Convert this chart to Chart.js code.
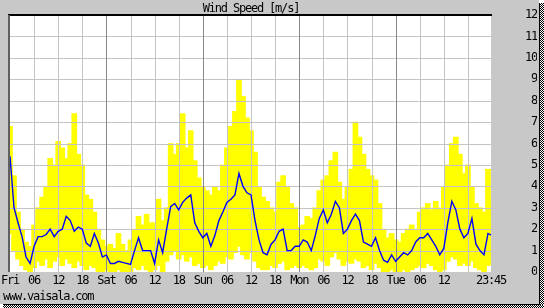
<!DOCTYPE html>
<html><head><meta charset="utf-8">
<script src="https://cdn.jsdelivr.net/npm/chart.js@4/dist/chart.umd.min.js"></script>
<style>
html,body{margin:0;padding:0;background:#fff;}
#wrap{position:relative;width:544px;height:308px;overflow:hidden;background:#fff;}
#panel{position:absolute;left:0;top:0;width:539px;height:304px;background:#c8c8c8;}
.blk{position:absolute;background:#000;}
.chk{position:absolute;background:repeating-conic-gradient(#000 0 25%,#fff 0 50%) 0 0/2px 2px;}
#c{position:absolute;left:0;top:0;}
.txt{position:absolute;font-family:"DejaVu Sans Mono",monospace;font-size:12px;line-height:14px;letter-spacing:-1.2px;color:#000;white-space:pre;}
</style></head>
<body><div id="wrap">
<div id="panel"></div>
<div class="blk" style="left:539px;top:3px;width:1px;height:302px"></div>
<div class="blk" style="left:3px;top:304px;width:537px;height:1px"></div>
<div class="chk" style="left:540px;top:3px;width:4px;height:305px"></div>
<div class="chk" style="left:3px;top:305px;width:541px;height:3px"></div>
<canvas id="c" width="544" height="308"></canvas>
<div class="txt" style="left:0;top:1px;width:502px;text-align:center">Wind Speed [m/s]</div>
<div class="txt" style="left:3px;top:289px">www.vaisala.com</div>
</div>
<script>
// hours since Fri 00:00
const hours = Array.from({length:121},(_,i)=>i);
const meanSpeed = [5.4,3.0,2.3,1.65,0.7,0.4,1.2,1.65,1.65,1.75,2.0,1.65,1.9,2.0,2.6,2.4,1.9,2.1,2.0,1.35,
 1.2,1.8,1.35,0.7,0.8,0.4,0.4,0.5,0.45,0.4,0.35,1.0,1.6,1.0,1.0,1.0,0.4,1.5,0.9,2.0,
 3.05,3.2,2.9,3.25,3.45,3.6,2.3,1.9,1.6,1.8,1.2,1.7,2.4,2.8,3.25,3.4,3.6,4.6,4.0,3.7,
 3.6,2.4,1.5,0.9,0.8,1.3,1.5,1.9,2.0,1.0,1.0,1.2,1.2,1.5,1.4,1.0,1.7,2.5,2.9,2.3,
 2.7,3.3,3.0,1.8,2.0,2.4,2.7,2.4,1.4,1.3,1.2,1.6,1.0,0.55,0.45,0.8,0.5,0.7,0.9,0.8,
 1.0,1.4,1.6,1.6,1.8,1.5,1.2,0.8,1.1,2.3,3.3,2.9,2.0,1.6,1.8,2.5,1.3,1.0,0.8,1.8,1.7];
const gustMax = [6.8,4.5,2.8,2.0,1.4,1.2,2.2,3.0,3.5,4.0,5.3,5.0,6.1,5.8,5.3,6.0,7.4,5.5,5.0,3.6,
 3.4,2.8,2.0,1.5,1.2,1.3,1.1,1.8,1.3,1.0,1.5,2.0,2.6,2.2,2.7,2.3,2.3,3.4,2.4,3.0,
 6.0,5.5,6.0,7.4,5.8,6.6,5.2,4.4,4.0,3.8,3.6,4.0,3.8,5.0,5.8,6.8,7.5,9.0,8.2,7.2,
 6.6,5.6,4.0,3.5,3.3,3.0,2.8,4.2,4.5,4.0,3.2,3.0,2.1,2.2,2.6,2.5,3.0,3.8,4.3,4.5,
 5.2,5.6,4.2,3.4,4.0,4.8,7.0,6.3,5.5,4.8,4.5,4.3,3.2,2.0,1.6,1.8,1.5,1.4,1.8,2.0,
 2.2,2.0,2.8,3.0,3.2,2.9,3.3,3.0,4.0,5.0,6.0,6.3,5.5,4.6,5.0,4.0,3.2,3.0,2.8,4.8,3.5];
const gustMin = [1.8,1.0,0.6,0.3,0.1,0.0,0.2,0.5,0.3,0.6,0.2,0.5,0.7,0.3,0.6,0.4,0.2,0.5,0.3,0.1,
 0.3,0.2,0.0,0.0,0.1,0.0,0.0,0.1,0.0,0.0,0.0,0.2,0.1,0.3,0.1,0.0,0.1,0.3,0.0,0.5,
 0.8,1.0,0.6,0.8,0.5,0.7,0.3,0.4,0.2,0.3,0.1,0.3,0.5,0.4,0.7,0.6,0.9,1.2,0.8,0.6,
 0.9,0.5,0.2,0.1,0.1,0.3,0.2,0.4,0.5,0.1,0.2,0.3,0.2,0.3,0.2,0.1,0.2,0.6,0.5,0.3,
 0.7,0.9,0.6,0.3,0.5,0.4,0.6,0.5,0.2,0.3,0.1,0.4,0.2,0.0,0.0,0.1,0.0,0.0,0.1,0.0,
 0.1,0.2,0.3,0.2,0.4,0.3,0.1,0.0,0.1,0.5,0.7,0.6,0.3,0.4,0.3,0.5,0.2,0.1,0.0,0.3,0.4];
const tickHours = [0,6,12,18,24,30,36,42,48,54,60,66,72,78,84,90,96,102,108,114,119.75];
const tickLabels = ['Fri','06','12','18','Sat','06','12','18','Sun','06','12','18','Mon','06','12','18','Tue','06','12','','23:45'];
const yTicks = [0,1,2,3,4,5,6,7,8,9,10,11,12];

const FONT = {family:'"DejaVu Sans Mono", monospace', size:12};
const spacingPlugin = {
  id:'spacing',
  afterInit(c){c.ctx.letterSpacing='-1.2px';},
  beforeLayout(c){c.ctx.letterSpacing='-1.2px';},
  beforeDraw(c){c.ctx.letterSpacing='-1.2px';}
};
const gridPlugin = {
  id:'grid',
  beforeDatasetsDraw(c){
    const {ctx, chartArea:a} = c;
    ctx.save(); ctx.fillStyle='#fff'; ctx.fillRect(a.left,a.top,a.right-a.left,a.bottom-a.top); ctx.restore();
  },
  afterDatasetDraw(c, args){
    if (args.index !== 1) return;
    const {ctx, chartArea:a, scales:{x,y}} = c;
    ctx.save();
    ctx.lineWidth = 1;
    ctx.strokeStyle = '#c4c4c4';
    yTicks.forEach(v=>{
      if (v===0 || v===12) return;
      const py = Math.round(y.getPixelForValue(v))+0.5;
      ctx.beginPath(); ctx.moveTo(a.left,py); ctx.lineTo(a.right,py); ctx.stroke();
    });
    tickHours.forEach(h=>{
      if (h===0 || h>=119.75) return;
      const px = Math.round(x.getPixelForValue(h))+0.5;
      ctx.strokeStyle = (h%24===0) ? '#888888' : '#c4c4c4';
      ctx.beginPath(); ctx.moveTo(px,a.top); ctx.lineTo(px,a.bottom); ctx.stroke();
    });
    const ty = y.getPixelForValue(12);
    ctx.strokeStyle = '#000'; ctx.lineWidth = 2;
    ctx.beginPath(); ctx.moveTo(a.left-2,ty); ctx.lineTo(a.right+1,ty); ctx.stroke();
    const lx = x.getPixelForValue(0);
    ctx.strokeStyle = '#606060';
    ctx.beginPath(); ctx.moveTo(lx-1,ty); ctx.lineTo(lx-1,a.bottom); ctx.stroke();
    ctx.restore();
  }
};
function zeroPad(s){ s.paddingLeft=0; s.paddingRight=0; s.paddingTop=0; s.paddingBottom=0; }

new Chart(document.getElementById('c'), {
  type:'bar',
  data:{datasets:[
    {type:'line', data:hours.map((h,i)=>({x:h,y:meanSpeed[i]})), borderColor:'#0000ff', borderWidth:1.4,
     pointRadius:0, tension:0, fill:false},
    {type:'bar', data:hours.map((h,i)=>({x:h,y:[gustMin[i],gustMax[i]]})), backgroundColor:'#ffff00',
     borderWidth:0, barThickness:5, grouped:false}
  ]},
  options:{
    responsive:false, animation:false, devicePixelRatio:1,
    layout:{autoPadding:false, padding:{left:10,top:15,right:7,bottom:16}},
    plugins:{legend:{display:false}, tooltip:{enabled:false}, title:{display:false}},
    scales:{
      x:{type:'linear', min:0, max:119.75, position:'bottom', offset:false,
         grid:{display:false, drawTicks:false}, border:{display:false},
         afterBuildTicks:(s)=>{s.ticks = tickHours.map(v=>({value:v}));},
         afterFit:(s)=>{s.height=20; zeroPad(s);},
         ticks:{autoSkip:false, maxRotation:0, minRotation:0, padding:2, color:'#000', font:FONT,
                callback:(v,i)=>tickLabels[i]}},
      y:{type:'linear', min:0, max:12, position:'right',
         grid:{display:false, drawTicks:false}, border:{display:false},
         afterBuildTicks:(s)=>{s.ticks = yTicks.map(v=>({value:v}));},
         afterFit:(s)=>{s.width=46; zeroPad(s);},
         ticks:{crossAlign:'far', padding:30, color:'#000', font:FONT}}
    }
  },
  plugins:[spacingPlugin, gridPlugin]
});
</script>
</body></html>
